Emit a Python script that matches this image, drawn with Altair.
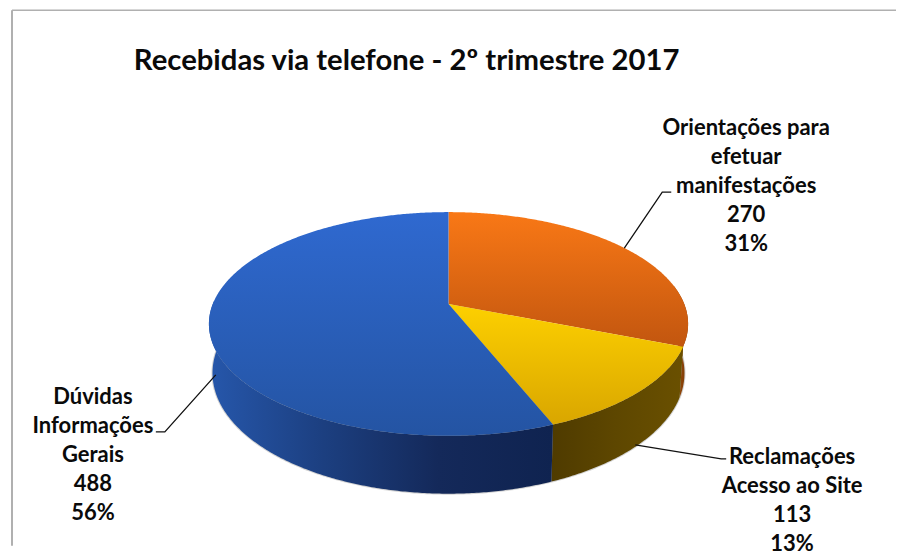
import math
import altair as alt
import pandas as pd

# ---- data
names = [["Orientações para", "efetuar", "manifestações"],
         ["Reclamações", "Acesso ao Site"],
         ["Dúvidas", "Informações", "Gerais"]]
counts = [270, 113, 488]
percents = ["31%", "13%", "56%"]
title_text = "Recebidas via telefone - 2º trimestre 2017"

# ---- layout (image pixels)
OFF = 8
CX, APEX, A, K, CC, DEPTH, SHRINK = 449, 304, 54.1, -0.1786, 236, 47.6, 0.985
label_pos = [(747, 128), (793, 457), (93, 397)]
LINE_H = 29
FONT = "Lato"
leaders = [[[625, 248], [663, 192], [672, 192]],
           [[636, 445], [722, 459], [727, 459]],
           [[216, 375], [165, 432], [156, 432]]]

top_grad = [("#f97816", "#c2560f"), ("#fdd000", "#d9a600"), ("#2f69d0", "#2454a3")]
wall_grad = [["#a8520c", "#7a3a06"],
             ["#4f3b00", "#5e4700", "#6a5000"],
             ["#2657ab", "#1c3f80", "#14295a", "#0f2350"]]
wall_range = [(80, 120), (0, 360), (0, 272)]


def rim(t_deg, bottom=False):
    t = math.radians(t_deg)
    u, v = math.sin(t), -math.cos(t)
    w = 1 + K * v
    x = CC * u / w
    y = (A * v + APEX) / w
    if bottom:
        return [CX + x * SHRINK, y + DEPTH / w]
    return [CX + x, y]


def arc_pts(t0, t1, bottom=False):
    n = max(2, int(abs(t1 - t0) * 2))
    return [rim(t0 + (t1 - t0) * i / n, bottom) for i in range(n + 1)]


def feature(coords, kind="Polygon"):
    geom = {"type": kind, "coordinates": [coords] if kind == "Polygon" else coords}
    return {"type": "Feature", "geometry": geom, "properties": {}}


def shape(feat, **mark):
    return alt.Chart(alt.InlineData(values=[feat], format=alt.DataFormat(type="json"))).mark_geoshape(**mark).project(
        type="identity", scale=1, translate=[-OFF, -OFF])


def vgrad(c0, c1):
    return alt.LinearGradient(gradient="linear", x1=0, y1=0, x2=0, y2=1,
                              stops=[alt.GradientStop(offset=0, color=c0), alt.GradientStop(offset=1, color=c1)])


def hgrad(cols):
    return alt.LinearGradient(gradient="linear", x1=0, y1=0, x2=1, y2=0,
                              stops=[alt.GradientStop(offset=i / (len(cols) - 1), color=c) for i, c in enumerate(cols)])


total = sum(counts)
edges = [0]
for c in counts:
    edges.append(edges[-1] + c / total * 360)

layers = []

# soft shadow under the front rim
shadow = arc_pts(90, 270, True)
layers.append(shape(feature(shadow + [[CX, APEX]] + [shadow[0]]), fill="#9a9a9a", stroke="#c8c8c8", strokeWidth=2, opacity=0.8))

# walls
for i in range(3):
    t0 = max(edges[i], wall_range[i][0])
    t1 = min(edges[i + 1], wall_range[i][1])
    poly = arc_pts(t0, t1) + arc_pts(t1, t0, True)
    poly.append(poly[0])
    layers.append(shape(feature(poly), fill=hgrad(wall_grad[i]), strokeWidth=0))

# top faces
for i in range(3):
    poly = [[CX, APEX]] + arc_pts(edges[i], edges[i + 1]) + [[CX, APEX]]
    layers.append(shape(feature(poly), fill=vgrad(*top_grad[i]), strokeWidth=0))

# leader lines
for pts in leaders:
    layers.append(shape(feature(pts, "LineString"), filled=False, stroke="#111111", strokeWidth=1.3))

# frame
layers.append(alt.Chart(pd.DataFrame({"a": [0]})).mark_rule(color="#b0b0b0", strokeWidth=2).encode(
    x=alt.value(12 - OFF), x2=alt.value(12 - OFF), y=alt.value(10 - OFF), y2=alt.value(538)))
layers.append(alt.Chart(pd.DataFrame({"a": [0]})).mark_rule(color="#b0b0b0", strokeWidth=1.5).encode(
    y=alt.value(10 - OFF), x=alt.value(12 - OFF), x2=alt.value(889)))

# title
layers.append(alt.Chart(pd.DataFrame({"t": [title_text], "x": [134 - OFF], "y": [61 - OFF]})).mark_text(
    font=FONT, fontWeight="bold", fontSize=29.3, align="left", baseline="middle", color="#0a0a0a").encode(
    x=alt.X("x:Q", scale=None), y=alt.Y("y:Q", scale=None), text="t:N"))

# slice labels
rows = []
for i in range(3):
    lines = names[i] + [str(counts[i]), percents[i]]
    for j, s in enumerate(lines):
        rows.append({"t": s, "x": label_pos[i][0] - OFF, "y": label_pos[i][1] + j * LINE_H - OFF})
layers.append(alt.Chart(pd.DataFrame(rows)).mark_text(
    font=FONT, fontWeight="bold", fontSize=22, align="center", baseline="middle", color="#0a0a0a").encode(
    x=alt.X("x:Q", scale=None), y=alt.Y("y:Q", scale=None), text="t:N"))

chart = alt.layer(*layers).properties(width=889, height=538, padding=0, background="white").configure_view(stroke=None)
chart.save("out.html", embed_options={"renderer": "svg", "actions": False})
